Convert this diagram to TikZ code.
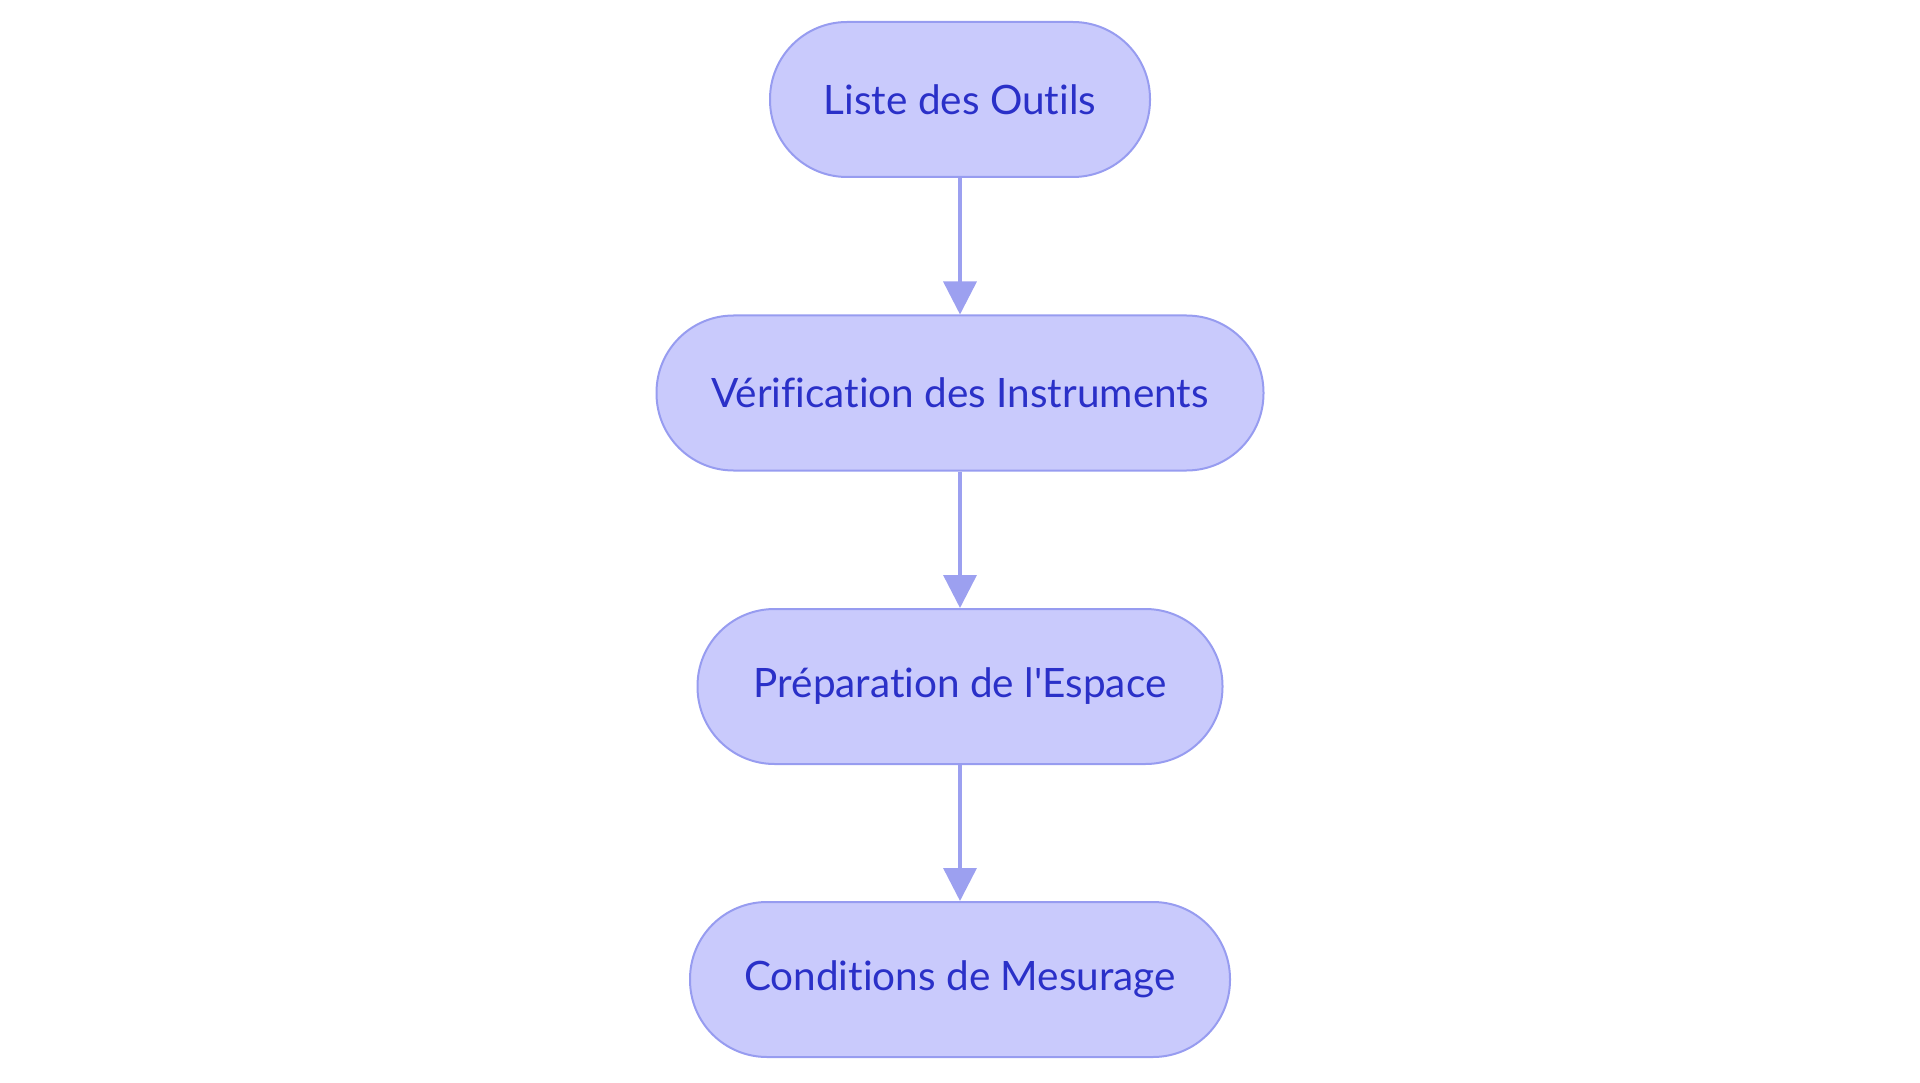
\documentclass[tikz,border=0pt]{standalone}
\usepackage{fontspec}
\newfontfamily\labfont{Lato}[Ligatures=NoCommon]
\usetikzlibrary{arrows.meta}
\definecolor{boxfill}{HTML}{C9CAFC}
\definecolor{boxline}{HTML}{979CF0}
\definecolor{txt}{HTML}{2A30C8}
\definecolor{arr}{HTML}{9CA0F0}
\tikzset{
  stadium/.style={draw=boxline, fill=boxfill, line width=2pt, rectangle,
    rounded corners=77pt, minimum height=155pt, inner sep=0pt,
    text=txt, font=\labfont\fontsize{40.5}{48}\selectfont},
  conn/.style={draw=arr, line width=3.5pt, -{Triangle[length=33pt,width=33pt]}}
}
\begin{document}
\begin{tikzpicture}[x=1pt,y=-1pt]
\useasboundingbox (0,0) rectangle (1920,1083);
\node[stadium, minimum width=380pt] (n1) at (960,99.5) {Liste des Outils};
\node[stadium, minimum width=607pt] (n2) at (960,393) {Vérification des Instruments};
\node[stadium, minimum width=525pt] (n3) at (960,686.5) {Préparation de l'Espace};
\node[stadium, minimum width=540pt] (n4) at (960,979.5) {Conditions de Mesurage};
\draw[conn] (n1) -- (n2);
\draw[conn] (n2) -- (n3);
\draw[conn] (n3) -- (n4);
\end{tikzpicture}
\end{document}
